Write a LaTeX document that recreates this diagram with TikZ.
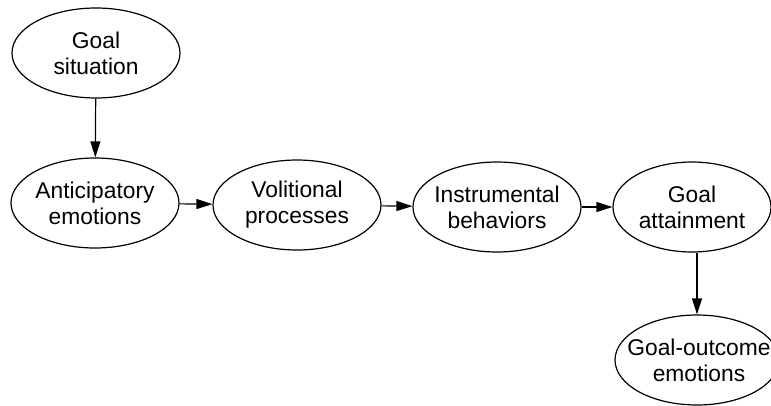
\documentclass[tikz,border=0pt]{standalone}
\usepackage{fontspec}
\setmainfont{Liberation Sans}
\usetikzlibrary{shapes.geometric,arrows.meta}
\begin{document}
\begin{tikzpicture}[x=1pt,y=-1pt,
  stage/.style={draw, ellipse, line width=1.2pt, inner sep=0pt,
    minimum width=168pt, minimum height=90pt},
  caption/.style={align=center, inner sep=0pt,
    font=\fontsize{22.8}{26}\selectfont},
  flow/.style={line width=1.2pt, -{Triangle[length=16pt,width=10pt]}}]
\useasboundingbox (0,0) rectangle (771,405);
\clip (0,0) rectangle (771,405);
% stage outlines
\node[stage] (sit) at (96,53) {};
\node[stage] (ant) at (95,203) {};
\node[stage] (vol) at (297,205) {};
\node[stage] (ins) at (497,207) {};
\node[stage, minimum width=158pt] (att) at (692,207) {};
\node[stage, minimum width=164pt] (out) at (697,360) {};
% stage texts
\node[caption] (tsit) at (sit.center) {Goal\\situation};
\node[caption] (tant) at (ant.center) {Anticipatory\\emotions};
\node[caption] (tvol) at (vol.center) {Volitional\\processes};
\node[caption] (tins) at (ins.center) {Instrumental\\behaviors};
\node[caption] (tatt) at (att.center) {Goal\\attainment};
\node[caption] (tout) at ([xshift=2pt]out.center) {Goal-outcome\\emotions};
% connectors
\draw[flow] (sit) -- (ant);
\draw[flow] (ant) -- (vol);
\draw[flow] (vol) -- (ins);
\draw[flow] (ins) -- (att);
\draw[flow] (att.south -| out.north) -- (out.north);
\end{tikzpicture}
\end{document}
